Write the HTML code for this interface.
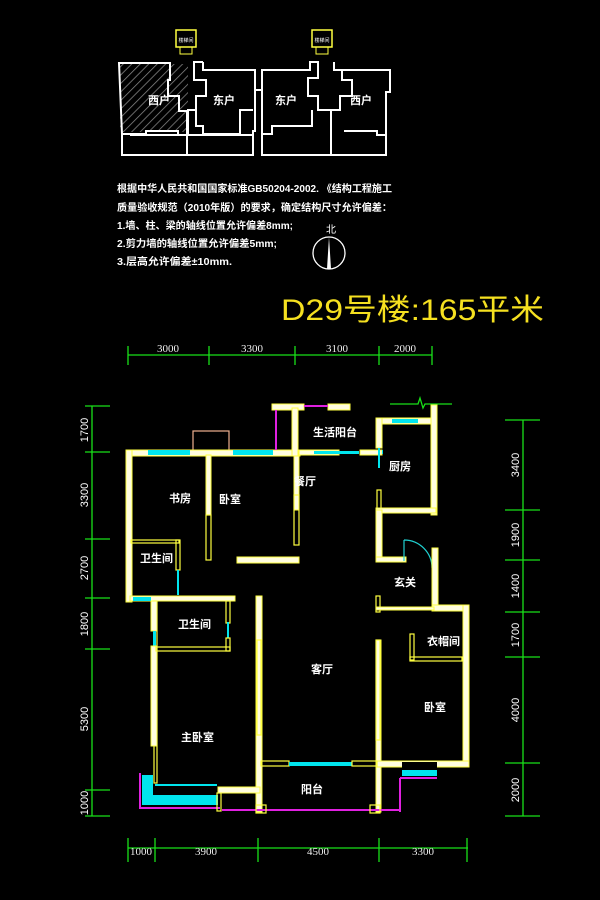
<!DOCTYPE html>
<html><head><meta charset="utf-8"><style>
html,body{margin:0;padding:0;background:#000;width:600px;height:900px;overflow:hidden}
svg{display:block}
text{font-family:"Liberation Sans","Noto Sans CJK SC",sans-serif;fill:#fff}
.w{fill:#fffde0;stroke:#ffff40;stroke-width:1}
.y{fill:none;stroke:#ffff40;stroke-width:1.2}
.c{fill:#00e5ee;stroke:none}
.m{stroke:#e020e0;stroke-width:2;fill:none}
.g{stroke:#18e018;stroke-width:1.3;fill:none}
.dim{font-family:"Liberation Serif",serif;font-size:11px;fill:#eee}
.lb{font-size:11px;font-weight:bold}
</style></head><body>
<svg width="600" height="900" viewBox="0 0 600 900" xmlns="http://www.w3.org/2000/svg">
<defs><pattern id="h" width="6" height="6" patternUnits="userSpaceOnUse" patternTransform="rotate(45)"><rect width="6" height="6" fill="#000"/><line x1="0" y1="0" x2="0" y2="6" stroke="#888" stroke-width="1.5"/></pattern></defs>
<!-- top key plan -->
<g fill="none" stroke="#fff" stroke-width="2">
<rect x="120" y="64" width="68" height="68" fill="url(#h)" stroke="none"/>
<path d="M119 63 H170 V80 H168 V96 H179 V111 H188 V135 H178 V131 H146 V134 H122 Z"/>
<path d="M203 62 H194 V80 H206 V96 H196 V110 H187"/>
<path d="M203 62 V70 H255 V131 H253 V135 H130"/>
<path d="M122 134 V155 H253 V135"/>
<path d="M187 111 V155"/>
<path d="M196 110 V126 H203 V134 H240 V110 H253"/>
<path d="M255 70 V90 H262 V70 H310 V62 H318 V78 H308 V96 H318 V110 H331"/>
<path d="M334 62 V70 H342 V80 H352 V96 H340 V110 H331 V155"/>
<path d="M334 70 H390 V92 H386 V135 H377 V131 H344"/>
<path d="M262 90 V155 H386 V135"/>
<path d="M262 134 H272 V126 H312 V110"/>
</g>
<rect x="176" y="30" width="20" height="17" fill="#000" stroke="#ffff40" stroke-width="1.5"/>
<rect x="180" y="47" width="12" height="7" fill="none" stroke="#ffff40"/>
<rect x="312" y="30" width="20" height="17" fill="#000" stroke="#ffff40" stroke-width="1.5"/>
<rect x="316" y="47" width="12" height="7" fill="none" stroke="#ffff40"/>
<text x="186" y="42" font-size="5" text-anchor="middle">楼梯间</text>
<text x="322" y="42" font-size="5" text-anchor="middle">楼梯间</text>
<text x="148" y="104" class="lb" font-size="9">西户</text>
<text x="213" y="104" class="lb" font-size="9">东户</text>
<text x="275" y="104" class="lb" font-size="9">东户</text>
<text x="350" y="104" class="lb" font-size="9">西户</text>
<!-- notes -->
<g font-size="10" font-weight="bold">
<text x="117" y="192" textLength="275" lengthAdjust="spacingAndGlyphs">根据中华人民共和国国家标准GB50204-2002. 《结构工程施工</text>
<text x="117" y="211" textLength="275" lengthAdjust="spacingAndGlyphs">质量验收规范（2010年版）的要求，确定结构尺寸允许偏差：</text>
<text x="117" y="229" textLength="176" lengthAdjust="spacingAndGlyphs">1.墙、柱、梁的轴线位置允许偏差8mm;</text>
<text x="117" y="247" textLength="160" lengthAdjust="spacingAndGlyphs">2.剪力墙的轴线位置允许偏差5mm;</text>
<text x="117" y="265" textLength="115" lengthAdjust="spacingAndGlyphs">3.层高允许偏差±10mm.</text>
</g>
<text x="326" y="233" font-size="10">北</text>
<circle cx="329" cy="253" r="16" fill="none" stroke="#fff" stroke-width="1.3"/>
<path d="M329 237 L331 269 L327 269 Z" fill="#fff"/>
<text x="281" y="320" font-size="30" textLength="263" lengthAdjust="spacingAndGlyphs" style="fill:#f5e020">D29号楼:165平米</text>
<!-- dims top -->
<path class="g" d="M128 355 H432 M128 346 V365 M209 346 V365 M295 346 V365 M379 346 V365 M432 346 V365"/>
<text class="dim" x="168" y="352" text-anchor="middle">3000</text>
<text class="dim" x="252" y="352" text-anchor="middle">3300</text>
<text class="dim" x="337" y="352" text-anchor="middle">3100</text>
<text class="dim" x="405" y="352" text-anchor="middle">2000</text>
<!-- dims bottom -->
<path class="g" d="M128 848 H468 M128 838 V862 M155 838 V862 M258 838 V862 M379 838 V862 M467 838 V862"/>
<text class="dim" x="141" y="855" text-anchor="middle">1000</text>
<text class="dim" x="206" y="855" text-anchor="middle">3900</text>
<text class="dim" x="318" y="855" text-anchor="middle">4500</text>
<text class="dim" x="423" y="855" text-anchor="middle">3300</text>
<!-- dims left -->
<path class="g" d="M92 406 V816 M85 406 H110 M85 452 H110 M85 539 H110 M85 598 H110 M85 649 H110 M85 790 H110 M85 816 H110"/>
<g class="dim" text-anchor="middle">
<text transform="translate(88 430) rotate(-90)">1700</text>
<text transform="translate(88 495) rotate(-90)">3300</text>
<text transform="translate(88 568) rotate(-90)">2700</text>
<text transform="translate(88 624) rotate(-90)">1800</text>
<text transform="translate(88 719) rotate(-90)">5300</text>
<text transform="translate(88 803) rotate(-90)">1000</text>
</g>
<!-- dims right -->
<path class="g" d="M523 420 V816 M505 420 H540 M505 510 H540 M505 560 H540 M505 612 H540 M505 657 H540 M505 763 H540 M505 816 H540"/>
<g class="dim" text-anchor="middle">
<text transform="translate(519 465) rotate(-90)">3400</text>
<text transform="translate(519 535) rotate(-90)">1900</text>
<text transform="translate(519 586) rotate(-90)">1400</text>
<text transform="translate(519 635) rotate(-90)">1700</text>
<text transform="translate(519 710) rotate(-90)">4000</text>
<text transform="translate(519 790) rotate(-90)">2000</text>
</g>
<path class="g" d="M390 404 H418 L420 398 L423 408 L425 404 H452"/>
<!-- plan walls -->
<rect x="193" y="431" width="36" height="21" fill="none" stroke="#f0b090" stroke-width="1.2"/>
<rect class="w" x="126" y="450" width="174" height="6"/>
<rect class="c" x="148" y="450" width="42" height="5"/>
<rect class="c" x="233" y="450" width="40" height="5"/>
<rect class="w" x="126" y="450" width="6" height="152"/>
<rect class="w" x="206" y="455" width="5" height="60"/>
<rect class="y" x="206" y="515" width="5" height="45" fill="#000"/>
<rect class="w" x="294" y="450" width="5" height="60"/>
<rect class="y" x="294" y="495" width="5" height="50" fill="#000"/>
<rect class="w" x="237" y="557" width="62" height="6"/>
<rect class="y" x="131" y="540" width="48" height="3"/>
<rect class="y" x="176" y="540" width="4" height="30"/>
<rect class="c" x="177" y="570" width="2" height="25"/>
<rect class="w" x="130" y="596" width="105" height="5"/>
<rect class="c" x="133" y="597" width="18" height="4"/>
<!-- 生活阳台 -->
<rect class="w" x="272" y="404" width="32" height="6"/>
<rect class="w" x="292" y="408" width="6" height="48"/>
<rect class="w" x="328" y="404" width="22" height="6"/>
<path class="m" d="M304 406 H328 M276 410 V450"/>
<rect class="w" x="299" y="450" width="40" height="5"/>
<rect class="c" x="314" y="451" width="45" height="3"/>
<rect class="w" x="360" y="450" width="22" height="5"/>
<rect class="c" x="382" y="450" width="1" height="4"/>
<!-- kitchen -->
<rect class="w" x="376" y="418" width="60" height="6"/>
<rect class="c" x="392" y="419" width="26" height="4"/>
<rect class="w" x="431" y="405" width="6" height="110"/>
<rect class="w" x="376" y="418" width="6" height="30"/>
<rect class="c" x="378" y="448" width="2" height="20"/>
<rect class="y" x="377" y="490" width="4" height="20"/>
<rect class="w" x="376" y="508" width="60" height="5"/>
<rect class="w" x="376" y="510" width="6" height="52"/>
<rect class="w" x="376" y="557" width="30" height="5"/>
<path d="M404 540 V561 M404 540 A28 28 0 0 1 432 568" stroke="#20d0d0" fill="none" stroke-width="1.2"/>
<rect class="w" x="432" y="548" width="6" height="62"/>
<rect class="w" x="432" y="605" width="37" height="6"/>
<rect class="w" x="463" y="605" width="6" height="160"/>
<rect class="y" x="376" y="596" width="4" height="16"/>
<rect class="w" x="376" y="607" width="58" height="3"/>
<rect class="y" x="410" y="634" width="4" height="26"/>
<rect class="y" x="410" y="657" width="52" height="4"/>
<!-- living -->
<rect class="w" x="256" y="596" width="6" height="216"/>
<rect class="y" x="257" y="640" width="4" height="95" fill="#000"/>
<rect class="w" x="376" y="640" width="5" height="172"/>
<rect class="y" x="376" y="640" width="4" height="100" fill="#000"/>
<rect class="w" x="376" y="761" width="93" height="6"/>
<rect class="c" x="402" y="766" width="35" height="10"/>
<rect x="402" y="762" width="35" height="8" fill="#000"/>
<path class="m" d="M400 778 V812 M400 778 H437"/>
<rect class="y" x="261" y="761" width="28" height="5"/>
<rect class="c" x="289" y="762" width="63" height="4"/>
<rect class="y" x="352" y="761" width="25" height="5"/>
<!-- 卫生间2 / master -->
<rect class="y" x="154" y="601" width="3" height="182"/>
<rect class="w" x="151" y="601" width="6" height="30"/>
<rect class="c" x="153" y="631" width="3" height="15"/>
<rect class="w" x="151" y="646" width="6" height="100"/>
<rect class="y" x="156" y="647" width="74" height="4"/>
<rect class="y" x="226" y="601" width="4" height="22"/>
<rect class="c" x="227" y="622" width="2" height="16"/>
<rect class="y" x="226" y="638" width="4" height="13"/>
<rect class="c" x="155" y="784" width="62" height="2"/>
<path d="M142 775 H153 V795 H218 V805 H142 Z" fill="#00e5ee"/>
<path class="m" d="M140 773 V808 H220" stroke-width="1.5"/>
<rect class="w" x="218" y="787" width="42" height="6"/>
<rect class="y" x="217" y="793" width="4" height="18"/>
<path class="m" d="M222 810 H400" stroke-width="2.5"/>
<rect class="y" x="256" y="805" width="10" height="8"/>
<rect class="y" x="370" y="805" width="10" height="8"/>
<!-- labels -->
<g class="lb">
<text x="169" y="502">书房</text>
<text x="219" y="503">卧室</text>
<text x="313" y="436">生活阳台</text>
<text x="389" y="470">厨房</text>
<text x="294" y="485">餐厅</text>
<text x="140" y="562">卫生间</text>
<text x="394" y="586">玄关</text>
<text x="178" y="628">卫生间</text>
<text x="427" y="645">衣帽间</text>
<text x="311" y="673">客厅</text>
<text x="424" y="711">卧室</text>
<text x="181" y="741">主卧室</text>
<text x="301" y="793">阳台</text>
</g>
</svg>
</body></html>
